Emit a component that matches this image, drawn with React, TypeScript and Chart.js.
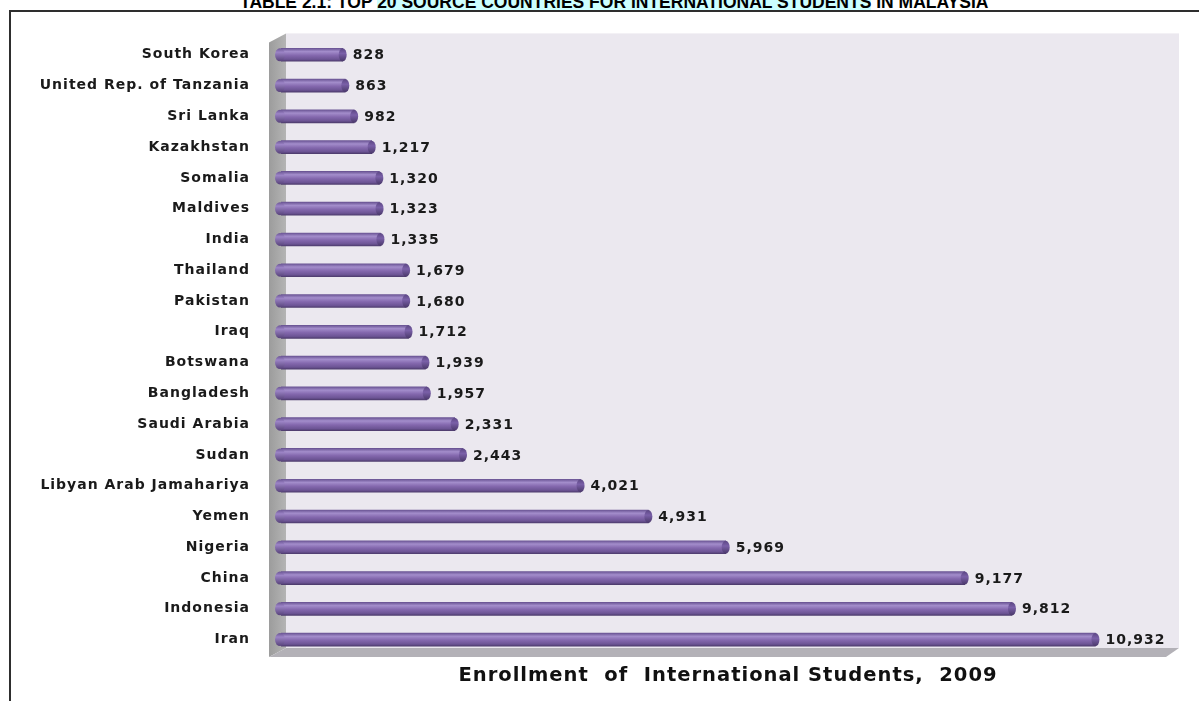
import React, { useEffect, useRef } from 'react';
import { Chart, registerables } from 'chart.js';

Chart.register(...registerables);

const countries = [
  'South Korea',
  'United Rep. of Tanzania',
  'Sri Lanka',
  'Kazakhstan',
  'Somalia',
  'Maldives',
  'India',
  'Thailand',
  'Pakistan',
  'Iraq',
  'Botswana',
  'Bangladesh',
  'Saudi Arabia',
  'Sudan',
  'Libyan Arab Jamahariya',
  'Yemen',
  'Nigeria',
  'China',
  'Indonesia',
  'Iran',
];

const enrollment = [
  828, 863, 982, 1217, 1320, 1323, 1335, 1679, 1680, 1712,
  1939, 1957, 2331, 2443, 4021, 4931, 5969, 9177, 9812, 10932,
];

const titlePre = 'TABLE 2.1: TOP ';
const titleHighlight = '20 SOURCE COUNTRIES FOR INTERNATIONAL STUDENTS';
const titlePost = ' IN MALAYSIA';
const axisTitle = 'Enrollment  of  International Students,  2009';
const axisMin = 0;
const axisMax = 12000;

const BAR_H = 13;

const spacingPlugin = {
  id: 'letterSpacing',
  beforeDraw(chart: any) {
    (chart.ctx as any).letterSpacing = '1px';
  },
  afterDraw(chart: any) {
    (chart.ctx as any).letterSpacing = '0px';
  },
};

const wallsPlugin = {
  id: 'walls3d',
  beforeDatasetsDraw(chart: any) {
    const { ctx, chartArea } = chart;
    const { left, right, top, bottom } = chartArea;
    const fx = left - 12; // front-left x
    const bx = left + 5; // back-left x
    const dy = 9;
    const backTop = top - 6;
    const backBottom = bottom - 7;
    ctx.save();
    ctx.fillStyle = '#EBE8EF';
    ctx.fillRect(bx, backTop, right + 4 - bx, backBottom - backTop);
    const sg = ctx.createLinearGradient(fx, 0, bx, 0);
    sg.addColorStop(0, '#9C9C9C');
    sg.addColorStop(1, '#B4B4B4');
    ctx.fillStyle = sg;
    ctx.beginPath();
    ctx.moveTo(fx, backTop + dy);
    ctx.lineTo(bx, backTop);
    ctx.lineTo(bx, backBottom);
    ctx.lineTo(fx, backBottom + dy);
    ctx.closePath();
    ctx.fill();
    ctx.fillStyle = '#B3B1B7';
    ctx.beginPath();
    ctx.moveTo(fx, backBottom + dy);
    ctx.lineTo(bx, backBottom);
    ctx.lineTo(right + 4, backBottom);
    ctx.lineTo(right + 4 - 13, backBottom + dy);
    ctx.closePath();
    ctx.fill();
    ctx.restore();
  },
};

const capsPlugin = {
  id: 'barCaps',
  afterDatasetsDraw(chart: any) {
    const { ctx } = chart;
    const meta = chart.getDatasetMeta(0);
    ctx.save();
    meta.data.forEach((el: any) => {
      const h = el.height;
      if (!isFinite(el.y) || !isFinite(h)) return;
      const g = ctx.createLinearGradient(0, el.y - h / 2, 0, el.y + h / 2);
      g.addColorStop(0, '#6A5494');
      g.addColorStop(0.3, '#9C84C6');
      g.addColorStop(1, '#57427A');
      ctx.fillStyle = g;
      ctx.beginPath();
      ctx.ellipse(el.base - 1, el.y, 5, h / 2, 0, 0, Math.PI * 2);
      ctx.fill();
      const g2 = ctx.createLinearGradient(0, el.y - h / 2, 0, el.y + h / 2);
      g2.addColorStop(0, '#5C4784');
      g2.addColorStop(0.4, '#7A60A8');
      g2.addColorStop(1, '#4A386A');
      ctx.fillStyle = g2;
      ctx.beginPath();
      ctx.ellipse(el.x, el.y, 4, h / 2, 0, 0, Math.PI * 2);
      ctx.fill();
    });
    ctx.restore();
  },
};

const valueLabelPlugin = {
  id: 'valueLabels',
  afterDatasetsDraw(chart: any) {
    const { ctx } = chart;
    const meta = chart.getDatasetMeta(0);
    const data = chart.data.datasets[0].data as number[];
    ctx.save();
    ctx.font = 'bold 14px "DejaVu Sans"';
    (ctx as any).letterSpacing = '1px';
    ctx.fillStyle = '#1A1A1A';
    ctx.textAlign = 'left';
    ctx.textBaseline = 'middle';
    meta.data.forEach((el: any, i: number) => {
      ctx.fillText(data[i].toLocaleString('en-US'), el.x + 10, el.y + 1);
    });
    ctx.restore();
  },
};

export default function App() {
  const canvasRef = useRef<HTMLCanvasElement | null>(null);

  useEffect(() => {
    const canvas = canvasRef.current;
    if (!canvas) return;
    const chart = new Chart(canvas, {
      type: 'bar',
      data: {
        labels: countries,
        datasets: [
          {
            data: enrollment,
            barThickness: BAR_H,
            borderWidth: 0,
            backgroundColor: (c: any) => {
              const ch = c.chart;
              const y = ch.scales && ch.scales.y;
              if (!y || c.dataIndex === undefined) return '#8064A2';
              const cy = y.getPixelForValue(c.dataIndex);
              if (!isFinite(cy)) return '#8064A2';
              const g = ch.ctx.createLinearGradient(0, cy - BAR_H / 2, 0, cy + BAR_H / 2);
              g.addColorStop(0, '#6A5494');
              g.addColorStop(0.25, '#A38DCB');
              g.addColorStop(0.55, '#8468AE');
              g.addColorStop(0.85, '#6C5494');
              g.addColorStop(1, '#4E3C6E');
              return g;
            },
          },
        ],
      },
      options: {
        indexAxis: 'y',
        responsive: false,
        animation: false,
        devicePixelRatio: 1,
        layout: { padding: { top: 38, right: 24, left: 0, bottom: 0 } },
        plugins: {
          legend: { display: false },
          tooltip: { enabled: false },
          title: { display: false },
        },
        scales: {
          x: {
            min: axisMin,
            max: axisMax,
            grid: { display: false, drawTicks: false },
            border: { display: false },
            ticks: { display: false },
            afterFit: (s: any) => {
              s.height = 46;
            },
            title: {
              display: true,
              text: axisTitle,
              color: '#111111',
              font: { family: '"DejaVu Sans"', size: 19.5, weight: 'bold' },
              padding: { top: 0, bottom: 13 },
            },
          },
          y: {
            grid: { display: false, drawTicks: false },
            border: { display: false },
            afterFit: (s: any) => {
              s.width = 281;
            },
            ticks: {
              color: '#1A1A1A',
              padding: 31,
              font: { family: '"DejaVu Sans"', size: 14, weight: 'bold' },
            },
          },
        },
      },
      plugins: [spacingPlugin, wallsPlugin, capsPlugin, valueLabelPlugin],
    } as any);
    return () => chart.destroy();
  }, []);

  return (
    <div
      style={{
        position: 'absolute',
        left: 0,
        top: 0,
        width: 1199,
        height: 701,
        overflow: 'hidden',
        background: '#FFFFFF',
      }}
    >
      <div
        style={{
          position: 'absolute',
          left: 240,
          top: -6,
          whiteSpace: 'nowrap',
          fontFamily: '"Liberation Sans Narrow", "Liberation Sans", sans-serif',
          fontWeight: 'bold',
          fontSize: 17.5,
          lineHeight: '16px',
          color: '#000000',
        }}
      >
        {titlePre}
        <span style={{ background: '#CCFFFF' }}>{titleHighlight}</span>
        {titlePost}
      </div>
      <div
        style={{
          position: 'absolute',
          left: 9,
          top: 10,
          width: 1300,
          height: 800,
          borderTop: '2px solid #2E2E2E',
          borderLeft: '2px solid #2E2E2E',
          boxSizing: 'border-box',
        }}
      />
      <canvas
        ref={canvasRef}
        width={1199}
        height={701}
        style={{ position: 'absolute', left: 0, top: 0 }}
      />
    </div>
  );
}
